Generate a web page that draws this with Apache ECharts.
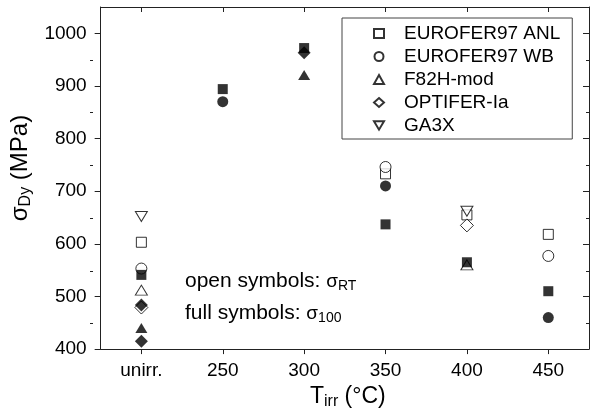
<!DOCTYPE html>
<html>
<head>
<meta charset="utf-8">
<script src="https://cdn.jsdelivr.net/npm/echarts@6/dist/echarts.min.js"></script>
<style>
html, body { margin: 0; padding: 0; background: #fff; }
#chart { width: 590px; height: 415px; }
</style>
</head>
<body>
<div id="chart"></div>
<script>
// irradiation temperature positions (200 stands for "unirr.")
const xTicks = [200, 250, 300, 350, 400, 450];
const yMajor = [400, 500, 600, 700, 800, 900, 1000];
const yMinor = [450, 550, 650, 750, 850, 950];

// open symbols: sigma_RT
const anlOpen = [[200, 603], [350, 733], [400, 655], [450, 618]];
const wbOpen = [[200, 553], [350, 746], [450, 577]];
const f82hOpen = [[200, 512], [400, 560]];
const optiferOpen = [[200, 479], [400, 635]];
const ga3xOpen = [[200, 652], [400, 662]];

// full symbols: sigma_100
const anlFull = [[200, 541], [250, 894], [300, 972], [350, 637], [400, 565], [450, 510]];
const wbFull = [[250, 870], [350, 710], [450, 460]];
const f82hFull = [[200, 440], [300, 921]];
const optiferFull = [[200, 484], [200, 415], [300, 963]];

const FONT = 'Arial, "Liberation Sans", sans-serif';
const DOWN_TRI = 'path://M0,0L12,0L6,10Z';

function openSeries(name, data, symbol, size) {
    return {
        name: name,
        type: 'scatter',
        data: data,
        symbol: symbol,
        symbolSize: size,
        itemStyle: { color: '#fff', borderColor: '#000', borderWidth: 1 },
        emphasis: { disabled: true }
    };
}
function fullSeries(name, data, symbol, size) {
    return {
        name: name,
        type: 'scatter',
        data: data,
        symbol: symbol,
        symbolSize: size,
        itemStyle: { color: '#000' },
        emphasis: { disabled: true }
    };
}

const axisLine = { show: true, lineStyle: { color: '#222', width: 1 } };

var option = {
    animation: false,
    textStyle: { fontFamily: FONT },
    grid: [
        { left: 93, right: 1, top: 7, bottom: 65 },
        { left: 93, right: 1, top: 7, bottom: 65 }
    ],
    xAxis: [{
        type: 'value', min: 175, max: 475, position: 'bottom',
        axisLine: axisLine,
        axisTick: { customValues: xTicks, length: 5, lineStyle: { color: '#222' } },
        axisLabel: {
            customValues: xTicks, fontSize: 19, color: '#000', margin: 12,
            formatter: function (v) { return v === 200 ? 'unirr.' : String(v); }
        },
        splitLine: { show: false },
        name: 'T{s|irr} (°C)',
        nameLocation: 'middle',
        nameGap: 30,
        nameTextStyle: {
            fontSize: 23, color: '#000', padding: [0, 0, 0, 6],
            rich: { s: { fontSize: 16, padding: [11, 0, 0, 0] } }
        }
    }, {
        type: 'value', min: 175, max: 475, position: 'top',
        axisLine: axisLine,
        axisTick: { customValues: xTicks, inside: true, length: 5, lineStyle: { color: '#222' } },
        axisLabel: { show: false },
        splitLine: { show: false }
    }, {
        type: 'value', min: 175, max: 475, gridIndex: 1, show: false
    }],
    yAxis: [{
        type: 'value', min: 400, max: 1050, position: 'left',
        axisLine: axisLine,
        axisTick: { customValues: yMajor, length: 6, lineStyle: { color: '#222' } },
        axisLabel: {
            customValues: yMajor, fontSize: 19, color: '#000', margin: 14,
            formatter: function (v) { return String(v); }
        },
        splitLine: { show: false },
        name: 'σ{s|Dy} (MPa)',
        nameLocation: 'middle',
        nameRotate: 90,
        nameGap: 53,
        nameTextStyle: {
            fontSize: 24, color: '#000', padding: [0, 0, 0, 20],
            rich: { s: { fontSize: 16, padding: [11, 0, 0, 0] } }
        }
    }, {
        type: 'value', min: 400, max: 1050, position: 'right',
        axisLine: axisLine,
        axisTick: { customValues: yMajor, inside: true, length: 6, lineStyle: { color: '#222' } },
        axisLabel: { show: false },
        splitLine: { show: false }
    }, {
        type: 'value', min: 400, max: 1050, position: 'left', gridIndex: 1,
        axisLine: { show: false },
        axisTick: { customValues: yMinor, length: 3, lineStyle: { color: '#222' } },
        axisLabel: { show: false },
        splitLine: { show: false }
    }, {
        type: 'value', min: 400, max: 1050, position: 'right', gridIndex: 1,
        axisLine: { show: false },
        axisTick: { customValues: yMinor, inside: true, length: 3, lineStyle: { color: '#222' } },
        axisLabel: { show: false },
        splitLine: { show: false }
    }],
    legend: {
        data: ['EUROFER97 ANL', 'EUROFER97 WB', 'F82H-mod', 'OPTIFER-Ia', 'GA3X'],
        orient: 'vertical',
        left: 342,
        top: 18,
        itemWidth: 10,
        itemHeight: 9,
        itemGap: 4,
        padding: [6, 12, 4, 31],
        borderColor: '#444',
        borderWidth: 1,
        selectedMode: false,
        textStyle: { fontSize: 19, color: '#000', lineHeight: 19, padding: [0, 0, 0, 15] }
    },
    graphic: [{
        type: 'text', left: 185, top: 271,
        style: {
            text: 'open symbols: {g|σ}{s|RT}',
            font: '21px ' + FONT, fill: '#000',
            rich: { g: { fontSize: 19 }, s: { fontSize: 14, padding: [10, 0, 0, 0] } }
        }
    }, {
        type: 'text', left: 185, top: 303,
        style: {
            text: 'full symbols: {g|σ}{s|100}',
            font: '21px ' + FONT, fill: '#000',
            rich: { g: { fontSize: 19 }, s: { fontSize: 14, padding: [10, 0, 0, 0] } }
        }
    }],
    series: [
        openSeries('EUROFER97 ANL', anlOpen, 'rect', 10),
        openSeries('EUROFER97 WB', wbOpen, 'circle', 11),
        openSeries('F82H-mod', f82hOpen, 'triangle', [12, 10]),
        openSeries('OPTIFER-Ia', optiferOpen, 'diamond', [13, 13]),
        openSeries('GA3X', ga3xOpen, DOWN_TRI, [12, 10]),
        fullSeries('EUROFER97 ANL full', anlFull, 'rect', 10),
        fullSeries('EUROFER97 WB full', wbFull, 'circle', 11),
        fullSeries('F82H-mod full', f82hFull, 'triangle', [12, 10]),
        fullSeries('OPTIFER-Ia full', optiferFull, 'diamond', [13, 13])
    ]
};

var chart = echarts.init(document.getElementById('chart'));
chart.setOption(option);
window.addEventListener('resize', function () {
    chart.resize();
});
</script>
</body>
</html>
